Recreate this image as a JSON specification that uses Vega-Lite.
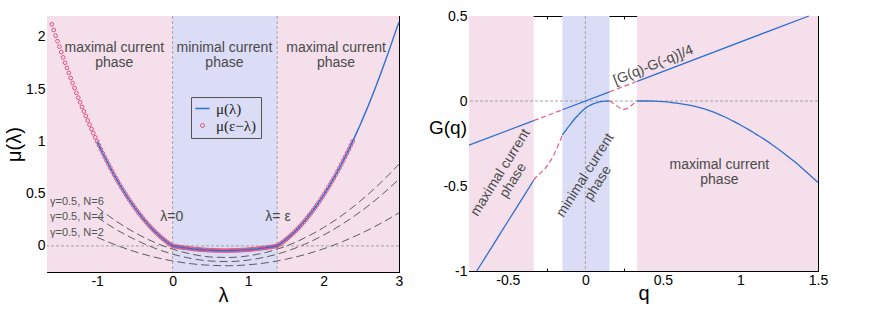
{
"$schema":"https://vega.github.io/schema/vega-lite/v6.json",
"padding":{"left":4,"top":9,"right":0,"bottom":0},
"spacing":25,
"config":{"view":{"stroke":null},"axis":{"domain":true,"domainColor":"black","domainWidth":1,"tickColor":"black","tickWidth":1,"grid":false,"zindex":1,"labelFont":"Liberation Sans","labelFontSize":14,"labelColor":"black","titleFont":"Liberation Sans","titleFontWeight":"normal","titleColor":"black","labelFlush":false,"labelOverlap":false},"text":{"font":"Liberation Sans"}},
"datasets":{
"muL":[{"l":-1.6,"m":2.12},{"l":-1.575,"m":2.066},{"l":-1.55,"m":2.012},{"l":-1.525,"m":1.959},{"l":-1.5,"m":1.907},{"l":-1.475,"m":1.855},{"l":-1.45,"m":1.804},{"l":-1.425,"m":1.753},{"l":-1.4,"m":1.704},{"l":-1.375,"m":1.655},{"l":-1.35,"m":1.606},{"l":-1.325,"m":1.558},{"l":-1.3,"m":1.511},{"l":-1.275,"m":1.465},{"l":-1.25,"m":1.419},{"l":-1.225,"m":1.374},{"l":-1.2,"m":1.33},{"l":-1.175,"m":1.287},{"l":-1.15,"m":1.244},{"l":-1.125,"m":1.201},{"l":-1.1,"m":1.16},{"l":-1.075,"m":1.119},{"l":-1.05,"m":1.079},{"l":-1.025,"m":1.039},{"l":-1,"m":1.0},{"l":-0.975,"m":0.962},{"l":-0.95,"m":0.924},{"l":-0.925,"m":0.887},{"l":-0.9,"m":0.851},{"l":-0.875,"m":0.816},{"l":-0.85,"m":0.781},{"l":-0.825,"m":0.747},{"l":-0.8,"m":0.713},{"l":-0.775,"m":0.681},{"l":-0.75,"m":0.648},{"l":-0.725,"m":0.617},{"l":-0.7,"m":0.586},{"l":-0.675,"m":0.556},{"l":-0.65,"m":0.527},{"l":-0.625,"m":0.498},{"l":-0.6,"m":0.47},{"l":-0.575,"m":0.443},{"l":-0.55,"m":0.416},{"l":-0.525,"m":0.39},{"l":-0.5,"m":0.365},{"l":-0.475,"m":0.34},{"l":-0.45,"m":0.316},{"l":-0.425,"m":0.293},{"l":-0.4,"m":0.27},{"l":-0.375,"m":0.248},{"l":-0.35,"m":0.227},{"l":-0.325,"m":0.206},{"l":-0.3,"m":0.186},{"l":-0.275,"m":0.167},{"l":-0.25,"m":0.148},{"l":-0.225,"m":0.131},{"l":-0.2,"m":0.113},{"l":-0.175,"m":0.097},{"l":-0.15,"m":0.081},{"l":-0.125,"m":0.066},{"l":-0.1,"m":0.051},{"l":-0.075,"m":0.037},{"l":-0.05,"m":0.024},{"l":-0.025,"m":0.012},{"l":0,"m":0},
{"l":0.025,"m":-0.003},{"l":0.05,"m":-0.006},{"l":0.075,"m":-0.009},{"l":0.1,"m":-0.012},{"l":0.125,"m":-0.015},{"l":0.15,"m":-0.017},{"l":0.175,"m":-0.02},{"l":0.2,"m":-0.022},{"l":0.225,"m":-0.025},{"l":0.25,"m":-0.027},{"l":0.275,"m":-0.029},{"l":0.3,"m":-0.031},{"l":0.325,"m":-0.032},{"l":0.35,"m":-0.034},{"l":0.375,"m":-0.036},{"l":0.4,"m":-0.037},{"l":0.425,"m":-0.038},{"l":0.45,"m":-0.04},{"l":0.475,"m":-0.041},{"l":0.5,"m":-0.042},{"l":0.525,"m":-0.042},{"l":0.55,"m":-0.043},{"l":0.575,"m":-0.044},{"l":0.6,"m":-0.044},{"l":0.625,"m":-0.045},{"l":0.65,"m":-0.045},{"l":0.675,"m":-0.045},{"l":0.7,"m":-0.045},{"l":0.725,"m":-0.045},{"l":0.75,"m":-0.045},{"l":0.775,"m":-0.044},{"l":0.8,"m":-0.044},{"l":0.825,"m":-0.043},{"l":0.85,"m":-0.043},{"l":0.875,"m":-0.042},{"l":0.9,"m":-0.041},{"l":0.925,"m":-0.04},{"l":0.95,"m":-0.039},{"l":0.975,"m":-0.038},{"l":1.0,"m":-0.036},{"l":1.025,"m":-0.035},{"l":1.05,"m":-0.033},{"l":1.075,"m":-0.031},{"l":1.1,"m":-0.03},{"l":1.125,"m":-0.028},{"l":1.15,"m":-0.025},{"l":1.175,"m":-0.023},{"l":1.2,"m":-0.021},{"l":1.225,"m":-0.019},{"l":1.25,"m":-0.016},{"l":1.275,"m":-0.013},{"l":1.3,"m":-0.011},{"l":1.325,"m":-0.008},{"l":1.35,"m":-0.005},{"l":1.375,"m":-0.001},{"l":1.386,"m":0},
{"l":1.411,"m":0.012},{"l":1.436,"m":0.024},{"l":1.461,"m":0.037},{"l":1.486,"m":0.051},{"l":1.511,"m":0.066},{"l":1.536,"m":0.081},{"l":1.561,"m":0.097},{"l":1.586,"m":0.113},{"l":1.611,"m":0.131},{"l":1.636,"m":0.148},{"l":1.661,"m":0.167},{"l":1.686,"m":0.186},{"l":1.711,"m":0.206},{"l":1.736,"m":0.227},{"l":1.761,"m":0.248},{"l":1.786,"m":0.27},{"l":1.811,"m":0.293},{"l":1.836,"m":0.316},{"l":1.861,"m":0.34},{"l":1.886,"m":0.365},{"l":1.911,"m":0.39},{"l":1.936,"m":0.416},{"l":1.961,"m":0.443},{"l":1.986,"m":0.47},{"l":2.011,"m":0.498},{"l":2.036,"m":0.527},{"l":2.061,"m":0.556},{"l":2.086,"m":0.586},{"l":2.111,"m":0.617},{"l":2.136,"m":0.648},{"l":2.161,"m":0.681},{"l":2.186,"m":0.713},{"l":2.211,"m":0.747},{"l":2.236,"m":0.781},{"l":2.261,"m":0.816},{"l":2.286,"m":0.851},{"l":2.311,"m":0.887},{"l":2.336,"m":0.924},{"l":2.361,"m":0.962},{"l":2.386,"m":1.0},
{"l":2.436,"m":1.079},{"l":2.486,"m":1.16},{"l":2.536,"m":1.244},{"l":2.586,"m":1.33},{"l":2.636,"m":1.419},{"l":2.686,"m":1.511},{"l":2.736,"m":1.606},{"l":2.786,"m":1.704},{"l":2.836,"m":1.804},{"l":2.886,"m":1.907},{"l":2.936,"m":2.012},{"l":2.986,"m":2.115},{"l":3.0,"m":2.14}],
"dashL":[
{"n":"6","l":-1,"m":0.37},{"n":"6","l":-0.75,"m":0.238},{"n":"6","l":-0.5,"m":0.127},{"n":"6","l":-0.25,"m":0.037},{"n":"6","l":0,"m":-0.031},{"n":"6","l":0.25,"m":-0.079},{"n":"6","l":0.5,"m":-0.106},{"n":"6","l":0.75,"m":-0.111},{"n":"6","l":1.0,"m":-0.096},{"n":"6","l":1.25,"m":-0.06},{"n":"6","l":1.5,"m":-0.003},{"n":"6","l":1.75,"m":0.076},{"n":"6","l":2.0,"m":0.175},{"n":"6","l":2.25,"m":0.295},{"n":"6","l":2.5,"m":0.437},{"n":"6","l":2.75,"m":0.599},{"n":"6","l":3.0,"m":0.782},
{"n":"4","l":-1,"m":0.274},{"n":"4","l":-0.75,"m":0.158},{"n":"4","l":-0.5,"m":0.061},{"n":"4","l":-0.25,"m":-0.018},{"n":"4","l":0,"m":-0.079},{"n":"4","l":0.25,"m":-0.121},{"n":"4","l":0.5,"m":-0.145},{"n":"4","l":0.75,"m":-0.15},{"n":"4","l":1.0,"m":-0.136},{"n":"4","l":1.25,"m":-0.104},{"n":"4","l":1.5,"m":-0.054},{"n":"4","l":1.75,"m":0.015},{"n":"4","l":2.0,"m":0.103},{"n":"4","l":2.25,"m":0.209},{"n":"4","l":2.5,"m":0.333},{"n":"4","l":2.75,"m":0.476},{"n":"4","l":3.0,"m":0.638},
{"n":"2","l":-1,"m":0.082},{"n":"2","l":-0.75,"m":0.008},{"n":"2","l":-0.5,"m":-0.055},{"n":"2","l":-0.25,"m":-0.106},{"n":"2","l":0,"m":-0.144},{"n":"2","l":0.25,"m":-0.171},{"n":"2","l":0.5,"m":-0.186},{"n":"2","l":0.75,"m":-0.19},{"n":"2","l":1.0,"m":-0.181},{"n":"2","l":1.25,"m":-0.161},{"n":"2","l":1.5,"m":-0.128},{"n":"2","l":1.75,"m":-0.084},{"n":"2","l":2.0,"m":-0.028},{"n":"2","l":2.25,"m":0.04},{"n":"2","l":2.5,"m":0.12},{"n":"2","l":2.75,"m":0.212},{"n":"2","l":3.0,"m":0.316}],
"G":[
{"s":"s1","k":"s","q":-0.75,"g":-0.26},{"s":"s1","k":"s","q":-0.333,"g":-0.1156},
{"s":"s2","k":"s","q":-0.148,"g":-0.0514},{"s":"s2","k":"s","q":0.156,"g":0.0541},
{"s":"s3","k":"s","q":0.334,"g":0.1159},{"s":"s3","k":"s","q":1.441,"g":0.5},
{"s":"c1","k":"s","q":-0.7,"g":-1.0},{"s":"c1","k":"s","q":-0.6,"g":-0.855},{"s":"c1","k":"s","q":-0.5,"g":-0.709},{"s":"c1","k":"s","q":-0.4,"g":-0.564},{"s":"c1","k":"s","q":-0.333,"g":-0.466},
{"s":"c2","k":"s","q":-0.148,"g":-0.2},{"s":"c2","k":"s","q":-0.12,"g":-0.165},{"s":"c2","k":"s","q":-0.1,"g":-0.142},{"s":"c2","k":"s","q":-0.075,"g":-0.112},{"s":"c2","k":"s","q":-0.05,"g":-0.087},{"s":"c2","k":"s","q":-0.025,"g":-0.063},{"s":"c2","k":"s","q":0,"g":-0.043},{"s":"c2","k":"s","q":0.025,"g":-0.028},{"s":"c2","k":"s","q":0.05,"g":-0.017},{"s":"c2","k":"s","q":0.075,"g":-0.009},{"s":"c2","k":"s","q":0.1,"g":-0.004},{"s":"c2","k":"s","q":0.125,"g":-0.001},{"s":"c2","k":"s","q":0.156,"g":0},
{"s":"c3","k":"s","q":0.334,"g":0},{"s":"c3","k":"s","q":0.4,"g":0},{"s":"c3","k":"s","q":0.45,"g":-0.001},{"s":"c3","k":"s","q":0.5,"g":-0.004},{"s":"c3","k":"s","q":0.55,"g":-0.008},{"s":"c3","k":"s","q":0.6,"g":-0.014},{"s":"c3","k":"s","q":0.65,"g":-0.021},{"s":"c3","k":"s","q":0.7,"g":-0.03},{"s":"c3","k":"s","q":0.75,"g":-0.042},{"s":"c3","k":"s","q":0.8,"g":-0.057},{"s":"c3","k":"s","q":0.85,"g":-0.074},{"s":"c3","k":"s","q":0.9,"g":-0.094},{"s":"c3","k":"s","q":0.95,"g":-0.117},{"s":"c3","k":"s","q":1.0,"g":-0.141},{"s":"c3","k":"s","q":1.05,"g":-0.167},{"s":"c3","k":"s","q":1.1,"g":-0.195},{"s":"c3","k":"s","q":1.15,"g":-0.223},{"s":"c3","k":"s","q":1.2,"g":-0.254},{"s":"c3","k":"s","q":1.25,"g":-0.287},{"s":"c3","k":"s","q":1.3,"g":-0.322},{"s":"c3","k":"s","q":1.35,"g":-0.358},{"s":"c3","k":"s","q":1.4,"g":-0.397},{"s":"c3","k":"s","q":1.45,"g":-0.438},{"s":"c3","k":"s","q":1.5,"g":-0.48},
{"s":"r1","k":"d","q":-0.333,"g":-0.1156},{"s":"r1","k":"d","q":-0.148,"g":-0.0514},
{"s":"r2","k":"d","q":0.156,"g":0.0541},{"s":"r2","k":"d","q":0.334,"g":0.1159},
{"s":"r3","k":"d","q":-0.333,"g":-0.466},{"s":"r3","k":"d","q":-0.31,"g":-0.44},{"s":"r3","k":"d","q":-0.285,"g":-0.42},{"s":"r3","k":"d","q":-0.26,"g":-0.398},{"s":"r3","k":"d","q":-0.235,"g":-0.365},{"s":"r3","k":"d","q":-0.21,"g":-0.33},{"s":"r3","k":"d","q":-0.19,"g":-0.29},{"s":"r3","k":"d","q":-0.17,"g":-0.25},{"s":"r3","k":"d","q":-0.148,"g":-0.2},
{"s":"r4","k":"d","q":0.156,"g":0},{"s":"r4","k":"d","q":0.175,"g":-0.01},{"s":"r4","k":"d","q":0.2,"g":-0.027},{"s":"r4","k":"d","q":0.225,"g":-0.042},{"s":"r4","k":"d","q":0.245,"g":-0.049},{"s":"r4","k":"d","q":0.265,"g":-0.045},{"s":"r4","k":"d","q":0.285,"g":-0.035},{"s":"r4","k":"d","q":0.31,"g":-0.016},{"s":"r4","k":"d","q":0.334,"g":0}]
},
"hconcat":[
{
"width":352,"height":256,
"resolve":{"axis":{"x":"independent","y":"independent"}},
"layer":[
{"data":{"values":[{"a":-1.664,"b":0,"p":"max"},{"a":0,"b":1.386,"p":"min"},{"a":1.386,"b":3,"p":"max"}]},
 "mark":{"type":"rect"},
 "encoding":{
  "x":{"field":"a","type":"quantitative","scale":{"domain":[-1.664,3],"nice":false,"zero":false},"axis":{"orient":"top","values":[-1,0,1,2,3],"tickSize":-6,"labels":false,"title":null}},
  "x2":{"field":"b"},
  "y":{"datum":-0.25,"type":"quantitative","scale":{"domain":[-0.25,2.2],"nice":false,"zero":false},"axis":{"orient":"right","values":[0,0.5,1,1.5,2],"tickSize":-6,"labels":false,"title":null}},
  "y2":{"datum":2.2},
  "fill":{"field":"p","type":"nominal","scale":{"domain":["max","min"],"range":["#f4dfea","#dbdcf5"]},"legend":null}}},
{"data":{"values":[{}]},
 "mark":{"type":"rule","color":"#a3a3a3","strokeDash":[3,2],"strokeWidth":1},
 "encoding":{"y":{"datum":0,"type":"quantitative","axis":{"orient":"right","values":[0.25,0.75,1.25,1.75],"tickSize":-3,"labels":false,"title":null}}}},
{"data":{"values":[{"v":0},{"v":1.386}]},
 "mark":{"type":"rule","color":"#a3a3a3","strokeDash":[3,2],"strokeWidth":1},
 "encoding":{"x":{"field":"v","type":"quantitative","axis":{"orient":"top","values":[-1.5,-0.5,0.5,1.5,2.5],"tickSize":-3,"labels":false,"title":null}}}},
{"data":{"name":"dashL"},
 "mark":{"type":"line","color":"#5c5c5c","strokeDash":[8,4],"strokeWidth":1,"interpolate":"monotone"},
 "encoding":{
  "x":{"field":"l","type":"quantitative","axis":{"orient":"bottom","values":[-1.5,-0.5,0.5,1.5,2.5],"tickSize":-3,"labels":false,"title":null}},
  "y":{"field":"m","type":"quantitative","axis":{"orient":"left","values":[0.25,0.75,1.25,1.75],"tickSize":-3,"labels":false,"title":null}},
  "detail":{"field":"n"}}},
{"data":{"name":"muL"},
 "transform":[{"filter":"datum.l <= 2.39"}],
 "mark":{"type":"point","filled":false,"size":14,"strokeWidth":1,"opacity":1},
 "encoding":{
  "x":{"field":"l","type":"quantitative","axis":null},
  "y":{"field":"m","type":"quantitative","axis":null},
  "color":{"datum":"μ(ε−λ)","type":"nominal","scale":{"domain":["μ(λ)","μ(ε−λ)"],"range":["#2f6fd0","#e2507c"]},
   "legend":{"orient":"none","legendX":144,"legendY":81,"title":null,"strokeColor":"#555555","padding":4,"labelFont":"Liberation Serif","labelFontSize":15,"labelColor":"#222222","rowPadding":1,"labelOffset":6,
    "symbolType":{"expr":"datum.value === 'μ(λ)' ? 'stroke' : 'circle'"},
    "symbolSize":{"expr":"datum.value === 'μ(λ)' ? 200 : 16"},
    "symbolStrokeWidth":{"expr":"datum.value === 'μ(λ)' ? 1.5 : 1"}}}}},
{"data":{"name":"muL"},
 "transform":[{"filter":"datum.l >= -1"}],
 "mark":{"type":"line","strokeWidth":1.4},
 "encoding":{
  "x":{"field":"l","type":"quantitative","axis":{"orient":"bottom","values":[-1,0,1,2,3],"tickSize":-6,"labelPadding":8,"labelExpr":"'' + datum.value","title":"λ","titleFontSize":20,"titleY":23.5,"titleBaseline":"middle"}},
  "y":{"field":"m","type":"quantitative","axis":{"orient":"left","values":[0,0.5,1,1.5,2],"tickSize":-6,"labelPadding":8,"labelExpr":"'' + datum.value","title":"μ(λ)","titleFontSize":20,"titleX":-33,"titleY":128,"titleAngle":270,"titleAlign":"center","titleBaseline":"middle"}},
  "color":{"datum":"μ(λ)","type":"nominal",
   "legend":{"orient":"none","legendX":144,"legendY":81,"title":null,"strokeColor":"#555555","padding":4,"labelFont":"Liberation Serif","labelFontSize":15,"labelColor":"#222222","rowPadding":1,"labelOffset":6,
    "symbolType":{"expr":"datum.value === 'μ(λ)' ? 'stroke' : 'circle'"},
    "symbolSize":{"expr":"datum.value === 'μ(λ)' ? 200 : 16"},
    "symbolStrokeWidth":{"expr":"datum.value === 'μ(λ)' ? 1.5 : 1"}}}}},
{"data":{"values":[{"x":-0.772,"y":1.898,"t":"maximal current|phase"},{"x":0.687,"y":1.898,"t":"minimal current|phase"},{"x":2.166,"y":1.898,"t":"maximal current|phase"}]},
 "mark":{"type":"text","fontSize":14,"color":"#4a4a4a","lineBreak":"|","lineHeight":15,"align":"center","baseline":"middle"},
 "encoding":{"x":{"field":"x","type":"quantitative","axis":null},"y":{"field":"y","type":"quantitative","axis":null},"text":{"field":"t"}}},
{"data":{"values":[{"x":-0.01,"y":0.281,"t":"λ=0"},{"x":1.397,"y":0.281,"t":"λ= ε"}]},
 "mark":{"type":"text","fontSize":14,"color":"#4a4a4a","align":"center","baseline":"middle"},
 "encoding":{"x":{"field":"x","type":"quantitative","axis":null},"y":{"field":"y","type":"quantitative","axis":null},"text":{"field":"t"}}},
{"data":{"values":[{"x":-1.624,"y":0.422,"t":"γ=0.5, N=6"},{"x":-1.624,"y":0.273,"t":"γ=0.5, N=4"},{"x":-1.624,"y":0.125,"t":"γ=0.5, N=2"}]},
 "mark":{"type":"text","fontSize":11,"color":"#555555","align":"left","baseline":"middle"},
 "encoding":{"x":{"field":"x","type":"quantitative","axis":null},"y":{"field":"y","type":"quantitative","axis":null},"text":{"field":"t"}}}
]
},
{
"width":349,"height":255,
"resolve":{"axis":{"x":"independent","y":"independent"}},
"layer":[
{"data":{"values":[{"a":-0.75,"b":-0.333,"p":"max"},{"a":-0.148,"b":0.156,"p":"min"},{"a":0.334,"b":1.5,"p":"max"}]},
 "mark":{"type":"rect"},
 "encoding":{
  "x":{"field":"a","type":"quantitative","scale":{"domain":[-0.75,1.5],"nice":false,"zero":false},"axis":{"orient":"top","values":[-0.5,0,0.5,1,1.5],"tickSize":-6,"labels":false,"title":null}},
  "x2":{"field":"b"},
  "y":{"datum":-1,"type":"quantitative","scale":{"domain":[-1,0.5],"nice":false,"zero":false},"axis":{"orient":"right","values":[-1,-0.5,0,0.5],"tickSize":-6,"labels":false,"title":null}},
  "y2":{"datum":0.5},
  "fill":{"field":"p","type":"nominal","scale":{"domain":["max","min"],"range":["#f4dfea","#dbdcf5"]},"legend":null}}},
{"data":{"values":[{}]},
 "mark":{"type":"rule","color":"#a3a3a3","strokeDash":[3,2],"strokeWidth":1},
 "encoding":{"y":{"datum":0,"type":"quantitative","axis":{"orient":"right","values":[-0.75,-0.25,0.25],"tickSize":-3,"labels":false,"title":null}}}},
{"data":{"values":[{"v":0}]},
 "mark":{"type":"rule","color":"#a3a3a3","strokeDash":[3,2],"strokeWidth":1},
 "encoding":{"x":{"field":"v","type":"quantitative","axis":{"orient":"top","values":[-0.25,0.25,0.75,1.25],"tickSize":-3,"labels":false,"title":null}}}},
{"data":{"name":"G"},
 "transform":[{"filter":"datum.k === 'd'"}],
 "mark":{"type":"line","color":"#e8577f","strokeDash":[5,3],"strokeWidth":1.2,"interpolate":"monotone"},
 "encoding":{
  "x":{"field":"q","type":"quantitative","axis":{"orient":"bottom","values":[-0.25,0.25,0.75,1.25],"tickSize":-3,"labels":false,"title":null}},
  "y":{"field":"g","type":"quantitative","axis":{"orient":"left","values":[-0.75,-0.25,0.25],"tickSize":-3,"labels":false,"title":null}},
  "detail":{"field":"s"}}},
{"data":{"name":"G"},
 "transform":[{"filter":"datum.k === 's'"}],
 "mark":{"type":"line","color":"#2f6fd0","strokeWidth":1.3,"interpolate":"monotone"},
 "encoding":{
  "x":{"field":"q","type":"quantitative","axis":{"orient":"bottom","values":[-0.5,0,0.5,1,1.5],"tickSize":-6,"labelPadding":8,"labelExpr":"'' + datum.value","title":"q","titleFontSize":20,"titleY":22,"titleBaseline":"middle"}},
  "y":{"field":"g","type":"quantitative","axis":{"orient":"left","values":[-1,-0.5,0,0.5],"tickSize":-6,"labelPadding":8,"labelExpr":"'' + datum.value","title":"G(q)","titleFontSize":19,"titleAngle":0,"titleX":-21.5,"titleY":111,"titleAlign":"center","titleBaseline":"middle"}},
  "detail":{"field":"s"}}},
{"data":{"values":[{"x":-0.547,"y":-0.421,"t":"maximal current|phase"},{"x":0.0,"y":-0.437,"t":"minimal current|phase"}]},
 "mark":{"type":"text","fontSize":14,"color":"#4a4a4a","lineBreak":"|","lineHeight":15,"align":"center","baseline":"middle","angle":302},
 "encoding":{"x":{"field":"x","type":"quantitative","axis":null},"y":{"field":"y","type":"quantitative","axis":null},"text":{"field":"t"}}},
{"data":{"values":[{"x":0.864,"y":-0.378,"t":"maximal current|phase"}]},
 "mark":{"type":"text","fontSize":14,"color":"#4a4a4a","lineBreak":"|","lineHeight":15,"align":"center","baseline":"middle"},
 "encoding":{"x":{"field":"x","type":"quantitative","axis":null},"y":{"field":"y","type":"quantitative","axis":null},"text":{"field":"t"}}},
{"data":{"values":[{"x":0.439,"y":0.21,"t":"[G(q)-G(-q)]/4"}]},
 "mark":{"type":"text","fontSize":14,"color":"#4a4a4a","align":"center","baseline":"middle","angle":338},
 "encoding":{"x":{"field":"x","type":"quantitative","axis":null},"y":{"field":"y","type":"quantitative","axis":null},"text":{"field":"t"}}}
]
}
]
}
